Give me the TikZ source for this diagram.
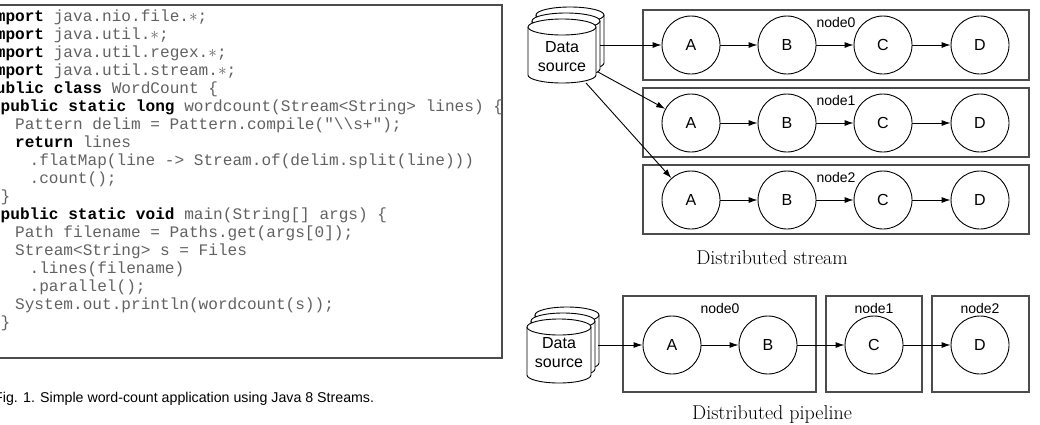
\documentclass[tikz,border=0pt]{standalone}
\usepackage{fontspec}
\setmainfont{Liberation Sans}
\newfontfamily\codefont{Liberation Mono}[WordSpace={1,0,0}]
\newfontfamily\capserif{Latin Modern Roman}
\usetikzlibrary{arrows.meta,shapes.geometric}
\begin{document}
\begin{tikzpicture}[x=1pt,y=-1pt,
  code/.style={anchor=mid west,inner sep=0pt,font=\codefont\fontsize{16.1}{16}\selectfont,text=black!62},
  op/.style={circle,draw,line width=0.9pt,minimum size=58pt,inner sep=0pt,font=\fontsize{16}{18}\selectfont},
  box/.style={draw=black!70,line width=1.2pt},
  lbl/.style={font=\fontsize{14}{16}\selectfont,inner sep=0pt},
  arr/.style={line width=0.9pt,-{Latex[length=9pt,width=6pt]}},
  cyl/.style={fill=white,draw,line width=0.9pt},
  capt/.style={font=\capserif\fontsize{20}{20}\selectfont,inner sep=0pt}]
\useasboundingbox (0,0) rectangle (1040,424);
% code box
\draw[box] (-2,5) rectangle (502,358);
\newcommand{\kw}[1]{\textbf{\color{black}#1}}
\def\cw{9.66}
\foreach \i/\ind/\t in {
 0/0/{\kw{import} java.nio.file.$\ast$;},
 1/0/{\kw{import} java.util.$\ast$;},
 2/0/{\kw{import} java.util.regex.$\ast$;},
 3/0/{\kw{import} java.util.stream.$\ast$;},
 4/0/{\kw{public} \kw{class} WordCount \{},
 5/1/{\kw{public} \kw{static} \kw{long} wordcount(Stream<String> lines) \{},
 6/2/{Pattern delim = Pattern.compile("\textbackslash\textbackslash s+");},
 7/2/{\kw{return} lines},
 8/3/{.flatMap(line -> Stream.of(delim.split(line)))},
 9/3/{.count();},
 10/1/{\}},
 11/1/{\kw{public} \kw{static} \kw{void} main(String[] args) \{},
 12/2/{Path filename = Paths.get(args[0]);},
 13/2/{Stream<String> s = Files},
 14/3/{.lines(filename)},
 15/3/{.parallel();},
 16/2/{System.out.println(wordcount(s));},
 17/1/{\}}}
  \node[code] (line\i) at ({-14+\ind*\cw*1.5},{19+\i*18}) {\t};
\node[anchor=mid west,inner sep=0pt,font=\fontsize{14.2}{16}\selectfont] (fig) at (-6,400) {Fig. 1. Simple word-count application using Java 8 Streams.};
% ---- Distributed stream
\foreach \k in {2,1,0}{
  \begin{scope}[shift={(\k*4,-\k*6)}]
  \draw[cyl] (528,27) -- (528,75) arc[start angle=180,end angle=0,x radius=34,y radius=8] -- (596,27);
  \draw[cyl] (562,27) ellipse[x radius=34,y radius=8];
  \end{scope}}
\node[align=center,font=\fontsize{16}{19}\selectfont,inner sep=0pt] (ds1) at (562,57) {Data\\source};
\foreach \r/\yt/\yb/\yc in {0/10/80/45,1/88/157/123,2/165/234/200}{
  \draw[box] (643,\yt) rectangle (1029,\yb);
  \node[lbl] (n\r) at (836,\yt+12) {node\r};
  \node[op] (A\r) at (691,\yc) {A};
  \node[op] (B\r) at (787,\yc) {B};
  \node[op] (C\r) at (883,\yc) {C};
  \node[op] (D\r) at (980,\yc) {D};
  \draw[arr] (A\r) -- (B\r);
  \draw[arr] (B\r) -- (C\r);
  \draw[arr] (C\r) -- (D\r);
}
\coordinate (s0) at (600,45);
\coordinate (s1) at (598,72);
\coordinate (s2) at (586,83);
\draw[arr] (s0) -- (A0);
\draw[arr] (s1) -- (A1);
\draw[arr] (s2) -- (A2);
\node[capt] (cs) at (772,258) {Distributed stream};
% ---- Distributed pipeline
\foreach \k in {2,1,0}{
  \begin{scope}[shift={(\k*4,-\k*6)}]
  \draw[cyl] (527,327) -- (527,375) arc[start angle=180,end angle=0,x radius=32,y radius=8] -- (591,327);
  \draw[cyl] (559,327) ellipse[x radius=32,y radius=8];
  \end{scope}}
\node[align=center,font=\fontsize{16}{19}\selectfont,inner sep=0pt] (ds2) at (559,353) {Data\\source};
\draw[box] (623,296) rectangle (816,392);
\draw[box] (826,296) rectangle (922,392);
\draw[box] (932,296) rectangle (1029,392);
\node[lbl] (p0) at (720,308) {node0};
\node[lbl] (p1) at (874,308) {node1};
\node[lbl] (p2) at (980,308) {node2};
\node[op] (PA) at (672,345) {A};
\node[op] (PB) at (768,345) {B};
\node[op] (PC) at (874,345) {C};
\node[op] (PD) at (980,345) {D};
\coordinate (ps) at (598,345);
\draw[arr] (ps) -- (PA);
\draw[arr] (PA) -- (PB);
\draw[arr] (PB) -- (PC);
\draw[arr] (PC) -- (PD);
\node[capt] (cp) at (772,414) {Distributed pipeline};
\end{tikzpicture}
\end{document}
